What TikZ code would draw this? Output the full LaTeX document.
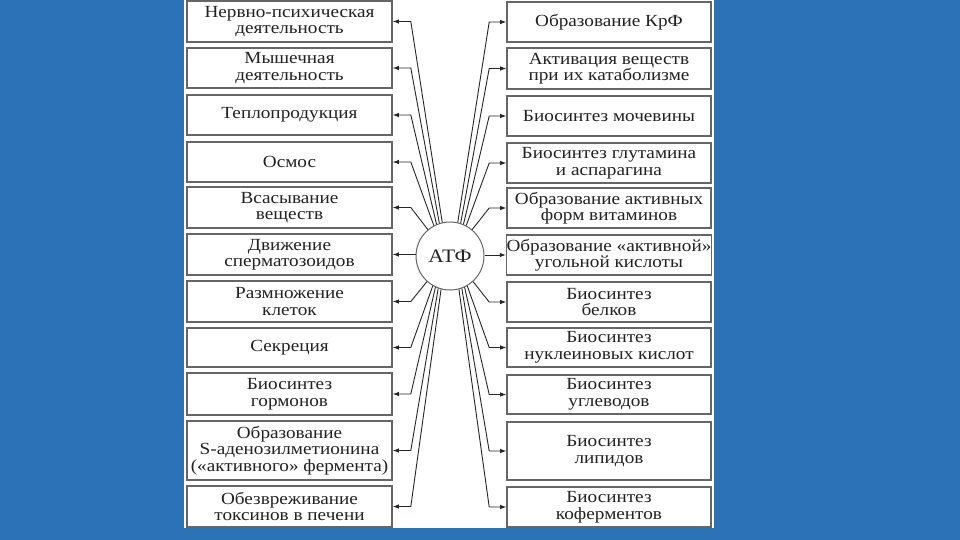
\documentclass[tikz,border=0pt]{standalone}
\usepackage{fontspec}
\setmainfont{Liberation Serif}[FakeStretch=1.13]
\usetikzlibrary{arrows.meta}
\definecolor{bgblue}{HTML}{2B72B6}
\definecolor{boxgray}{HTML}{666666}
\definecolor{txt}{HTML}{222222}
\begin{document}
\begin{tikzpicture}[x=1pt,y=-1pt,
  box/.style={draw=boxgray, line width=1.6pt, fill=white, inner sep=0pt,
    minimum width=205pt, align=center, text=txt,
    font=\fontsize{17}{16.5}\selectfont},
  conn/.style={draw=black!85, line width=0.9pt,
    -{Latex[length=6pt,width=4.5pt]}},
  core/.style={circle, draw=boxgray, line width=1pt, fill=white,
    minimum size=68pt, inner sep=0pt, text=txt,
    font=\fontsize{19}{19}\selectfont}
]
\useasboundingbox (0,0) rectangle (960,540);
\fill[bgblue] (0,0) rectangle (960,540);
\fill[white] (184,0) rectangle (714,528);

% left column
\node[box, minimum height=41pt] (L1) at (289.5,21.5) {Нервно-психическая\\деятельность};
\node[box, minimum height=40pt] (L2) at (289.5,68) {Мышечная\\деятельность};
\node[box, minimum height=40pt] (L3) at (289.5,115) {Теплопродукция};
\node[box, minimum height=40pt] (L4) at (289.5,162) {Осмос};
\node[box, minimum height=41pt] (L5) at (289.5,207.5) {Всасывание\\веществ};
\node[box, minimum height=41pt] (L6) at (289.5,254.5) {Движение\\сперматозоидов};
\node[box, minimum height=41pt] (L7) at (289.5,301.5) {Размножение\\клеток};
\node[box, minimum height=39pt] (L8) at (289.5,347.5) {Секреция};
\node[box, minimum height=42pt] (L9) at (289.5,394) {Биосинтез\\гормонов};
\node[box, minimum height=59pt] (L10) at (289.5,450.5) {Образование\\S-аденозилметионина\\(«активного» фермента)};
\node[box, minimum height=41pt] (L11) at (289.5,506.5) {Обезвреживание\\токсинов в печени};

% right column
\node[box, minimum width=204pt, minimum height=40pt] (R1) at (609,22) {Образование КрФ};
\node[box, minimum width=204pt, minimum height=41pt] (R2) at (609,68.5) {Активация веществ\\при их катаболизме};
\node[box, minimum width=204pt, minimum height=40pt] (R3) at (609,116) {Биосинтез мочевины};
\node[box, minimum width=204pt, minimum height=40pt] (R4) at (609,163) {Биосинтез глутамина\\и аспарагина};
\node[box, minimum width=204pt, minimum height=40pt] (R5) at (609,208) {Образование активных\\форм витаминов};
\node[box, minimum width=204pt, minimum height=40pt] (R6) at (609,255) {Образование «активной»\\угольной кислоты};
\node[box, minimum width=204pt, minimum height=40pt] (R7) at (609,302) {Биосинтез\\белков};
\node[box, minimum width=204pt, minimum height=39pt] (R8) at (609,347.5) {Биосинтез\\нуклеиновых кислот};
\node[box, minimum width=204pt, minimum height=39pt] (R9) at (609,394.5) {Биосинтез\\углеводов};
\node[box, minimum width=204pt, minimum height=58pt] (R10) at (609,451) {Биосинтез\\липидов};
\node[box, minimum width=204pt, minimum height=40pt] (R11) at (609,507) {Биосинтез\\коферментов};

% centre
\node[core] (atf) at (450,256) {АТФ};

% connectors to the left
\draw[conn] (atf.103) -- ([xshift=18pt]L1.east) -- (L1.east);
\draw[conn] (atf.108) -- ([xshift=18pt]L2.east) -- (L2.east);
\draw[conn] (atf.113) -- ([xshift=18pt]L3.east) -- (L3.east);
\draw[conn] (atf.118) -- ([xshift=18pt]L4.east) -- (L4.east);
\draw[conn] (atf.130) -- ([xshift=18pt]L5.east) -- (L5.east);
\draw[conn] (L6.east -| atf.west) -- (L6.east);
\draw[conn] (atf.228) -- ([xshift=18pt]L7.east) -- (L7.east);
\draw[conn] (atf.240) -- ([xshift=18pt]L8.east) -- (L8.east);
\draw[conn] (atf.245) -- ([xshift=18pt]L9.east) -- (L9.east);
\draw[conn] (atf.250) -- ([xshift=18pt]L10.east) -- (L10.east);
\draw[conn] (atf.255) -- ([xshift=18pt]L11.east) -- (L11.east);

% connectors to the right
\draw[conn] (atf.77) -- ([xshift=-17pt]R1.west) -- (R1.west);
\draw[conn] (atf.72) -- ([xshift=-17pt]R2.west) -- (R2.west);
\draw[conn] (atf.67) -- ([xshift=-17pt]R3.west) -- (R3.west);
\draw[conn] (atf.62) -- ([xshift=-17pt]R4.west) -- (R4.west);
\draw[conn] (atf.50) -- ([xshift=-17pt]R5.west) -- (R5.west);
\draw[conn] (R6.west -| atf.east) -- (R6.west);
\draw[conn] (atf.-48) -- ([xshift=-17pt]R7.west) -- (R7.west);
\draw[conn] (atf.-60) -- ([xshift=-17pt]R8.west) -- (R8.west);
\draw[conn] (atf.-65) -- ([xshift=-17pt]R9.west) -- (R9.west);
\draw[conn] (atf.-70) -- ([xshift=-17pt]R10.west) -- (R10.west);
\draw[conn] (atf.-75) -- ([xshift=-17pt]R11.west) -- (R11.west);
\end{tikzpicture}
\end{document}
